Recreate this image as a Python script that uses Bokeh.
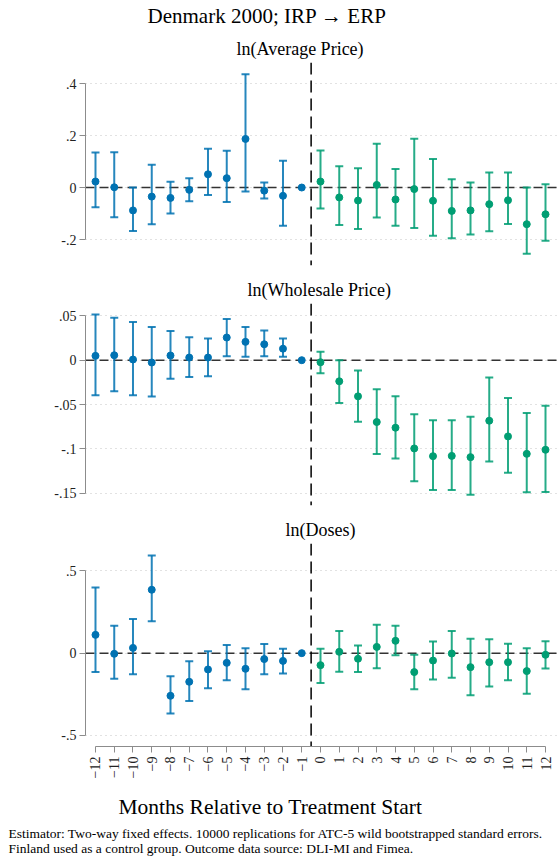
from math import pi
import numpy as np
from bokeh.plotting import figure
from bokeh.models import Span, FixedTicker, Title, ColumnDataSource, Range1d
from bokeh.layouts import column
from bokeh.embed import file_html
from bokeh.resources import INLINE

nan = float("nan")

# ---------------- data ----------------
months = list(range(-12, 13))

avg_est = [0.023, 0.001, -0.088, -0.035, -0.040, -0.009, 0.051, 0.036, 0.187, -0.012, -0.032, 0.0,
           0.023, -0.038, -0.050, 0.010, -0.046, -0.006, -0.051, -0.090, -0.088, -0.064, -0.049, -0.141, -0.103]
avg_lo = [-0.076, -0.114, -0.167, -0.141, -0.100, -0.053, -0.029, -0.056, -0.015, -0.042, -0.147, nan,
          -0.081, -0.144, -0.160, -0.115, -0.147, -0.156, -0.186, -0.195, -0.181, -0.168, -0.140, -0.255, -0.205]
avg_hi = [0.135, 0.136, 0.0, 0.088, 0.022, 0.036, 0.149, 0.141, 0.436, 0.019, 0.103, nan,
          0.142, 0.082, 0.074, 0.168, 0.071, 0.188, 0.110, 0.032, 0.019, 0.058, 0.058, 0.0, 0.013]

whl_est = [0.0049, 0.0056, 0.0008, -0.0026, 0.0053, 0.003, 0.003, 0.0256, 0.0207, 0.018, 0.013, 0.0,
           -0.0023, -0.0238, -0.0408, -0.0698, -0.0762, -0.0996, -0.1083, -0.108, -0.1094, -0.0683, -0.086, -0.1057, -0.1011]
whl_lo = [-0.0395, -0.035, -0.0395, -0.041, -0.021, -0.019, -0.018, 0.0045, 0.0038, 0.0045, 0.0038, nan,
          -0.0147, -0.0483, -0.0694, -0.106, -0.111, -0.1366, -0.1464, -0.1464, -0.152, -0.1143, -0.127, -0.149, -0.1487]
whl_hi = [0.0515, 0.048, 0.043, 0.0376, 0.033, 0.026, 0.0244, 0.0466, 0.0376, 0.0335, 0.0244, nan,
          0.0094, 0.0, -0.0117, -0.0328, -0.0408, -0.0611, -0.0679, -0.0679, -0.0638, -0.0196, -0.0426, -0.0596, -0.0513]

dos_est = [0.111, -0.004, 0.032, 0.385, -0.259, -0.174, -0.099, -0.059, -0.095, -0.036, -0.047, 0.0,
           -0.073, 0.008, -0.034, 0.038, 0.075, -0.115, -0.045, -0.002, -0.085, -0.055, -0.055, -0.109, -0.010]
dos_lo = [-0.115, -0.156, -0.128, 0.194, -0.366, -0.291, -0.213, -0.164, -0.219, -0.128, -0.123, nan,
          -0.182, -0.113, -0.115, -0.091, -0.012, -0.219, -0.160, -0.150, -0.255, -0.202, -0.164, -0.247, -0.093]
dos_hi = [0.399, 0.166, 0.208, 0.593, -0.140, -0.049, 0.012, 0.049, 0.030, 0.055, 0.026, nan,
          0.026, 0.134, 0.047, 0.172, 0.166, -0.010, 0.071, 0.134, 0.087, 0.085, 0.057, 0.030, 0.073]

avg_ticks = [-0.2, 0.0, 0.2, 0.4]
avg_labels = ["-.2", "0", ".2", ".4"]
whl_ticks = [-0.15, -0.1, -0.05, 0.0, 0.05]
whl_labels = ["-.15", "-.1", "-.05", "0", ".05"]
dos_ticks = [-0.5, 0.0, 0.5]
dos_labels = ["-.5", "0", ".5"]

main_title = "Denmark 2000; IRP \u2192 ERP"
panel_titles = ["ln(Average Price)", "ln(Wholesale Price)", "ln(Doses)"]
x_title = "Months Relative to Treatment Start"
note1 = "Estimator: Two-way fixed effects. 10000 replications for ATC-5 wild bootstrapped standard errors."
note2 = "Finland used as a control group. Outcome data source: DLI-MI and Fimea."

# ---------------- style ----------------
FONT = "Liberation Serif"
BLUE = "#0072B2"
GREEN = "#009E73"
colors = [BLUE if m < 0 else GREEN for m in months]

W = 558
LEFT = 85
FRAME_W = W - LEFT
x_range = Range1d(-12.533, 12.693)


def make_title(text, size, offset, standoff):
    return Title(text=text, align="left", offset=offset, text_font=FONT,
                 text_font_size=size, text_font_style="normal", text_color="black",
                 standoff=standoff)


def text_strip(top, frame_h, bottom):
    """An empty strip (no axes, no marks) that only carries titles."""
    p = figure(frame_width=FRAME_W, frame_height=frame_h, x_range=Range1d(0, 1),
               y_range=Range1d(0, 1), output_backend="svg", toolbar_location=None,
               x_axis_location=None, y_axis_location=None,
               min_border_left=LEFT, min_border_right=0,
               min_border_top=top, min_border_bottom=bottom,
               border_fill_color="white", background_fill_color="white")
    p.outline_line_color = None
    p.grid.visible = False
    return p


def make_panel(title, est, lo, hi, yr, ticks, labels, top_border, bottom_border,
               frame_h, title_offset, title_standoff, show_x=False):
    p = figure(frame_width=FRAME_W, frame_height=frame_h, x_range=x_range, y_range=Range1d(*yr),
               output_backend="svg", toolbar_location=None,
               x_axis_location="below" if show_x else None,
               min_border_left=LEFT, min_border_right=0,
               min_border_top=top_border, min_border_bottom=bottom_border,
               border_fill_color="white", background_fill_color="white")
    p.outline_line_color = None
    p.xgrid.visible = False

    p.ygrid.ticker = FixedTicker(ticks=ticks)
    p.ygrid.grid_line_color = "#c4c4c4"
    p.ygrid.grid_line_dash = "1 4"
    p.ygrid.grid_line_width = 1

    ya = p.yaxis[0]
    ya.ticker = FixedTicker(ticks=ticks)
    ya.major_label_overrides = dict(zip(ticks, labels))
    ya.bounds = (min(ticks), max(ticks))
    ya.axis_line_color = "#8c8c8c"
    ya.major_tick_line_color = "#8c8c8c"
    ya.minor_tick_line_color = None
    ya.major_tick_out = 6
    ya.major_tick_in = 0
    ya.major_label_standoff = 3
    ya.major_label_text_font = FONT
    ya.major_label_text_font_size = "14px"
    ya.major_label_text_color = "#222222"

    p.add_layout(Span(location=0, dimension="width", line_color="#333333",
                      line_dash="9 5", line_width=1.5, level="underlay"))
    p.add_layout(Span(location=-0.5, dimension="height", line_color="black",
                      line_dash="12 6", line_width=1.5, level="underlay"))

    src = ColumnDataSource(dict(x=months, est=est,
                                lo=np.array(lo, dtype=float), hi=np.array(hi, dtype=float),
                                color=colors))
    p.segment(x0="x", y0="lo", x1="x", y1="hi", source=src, line_color="color",
              line_width=2, line_alpha=0.85)
    p.scatter(x="x", y="lo", source=src, marker="dash", size=8, line_color="color",
              line_width=2, line_alpha=0.85)
    p.scatter(x="x", y="hi", source=src, marker="dash", size=8, line_color="color",
              line_width=2, line_alpha=0.85)
    p.scatter(x="x", y="est", source=src, marker="circle", size=7, fill_color="color",
              line_color="color")

    p.add_layout(make_title(title, "18px", title_offset, title_standoff), "above")

    if show_x:
        xa = p.xaxis[0]
        xa.ticker = FixedTicker(ticks=months)
        xa.bounds = (min(months), max(months))
        xa.major_label_orientation = pi / 2
        xa.axis_line_color = "#8c8c8c"
        xa.major_tick_line_color = "#8c8c8c"
        xa.minor_tick_line_color = None
        xa.major_tick_out = 6
        xa.major_tick_in = 0
        xa.major_label_standoff = 4
        xa.major_label_text_font = FONT
        xa.major_label_text_font_size = "14px"
        xa.major_label_text_color = "#222222"
    return p


header = text_strip(27, 4, 0)
header.add_layout(make_title(main_title, "21px", 62, 0), "above")

p1 = make_panel(panel_titles[0], avg_est, avg_lo, avg_hi, (-0.30, 0.481),
                avg_ticks, avg_labels, 31, 7, 203, 151, 7.5)
p2 = make_panel(panel_titles[1], whl_est, whl_lo, whl_hi, (-0.164, 0.064),
                whl_ticks, whl_labels, 31, 7, 202, 162, 7)
p3 = make_panel(panel_titles[2], dos_est, dos_lo, dos_hi, (-0.567, 0.666),
                dos_ticks, dos_labels, 31, 32, 203, 200, 7, show_x=True)

footer = text_strip(40, 2, 39)
footer.add_layout(make_title(x_title, "21.5px", 33, 6), "above")
footer.add_layout(make_title(note1 + "\n" + note2, "13.5px", -77, 0), "below")

layout = column(header, p1, p2, p3, footer, spacing=0)

with open("out.html", "w") as f:
    f.write(file_html(layout, INLINE))
